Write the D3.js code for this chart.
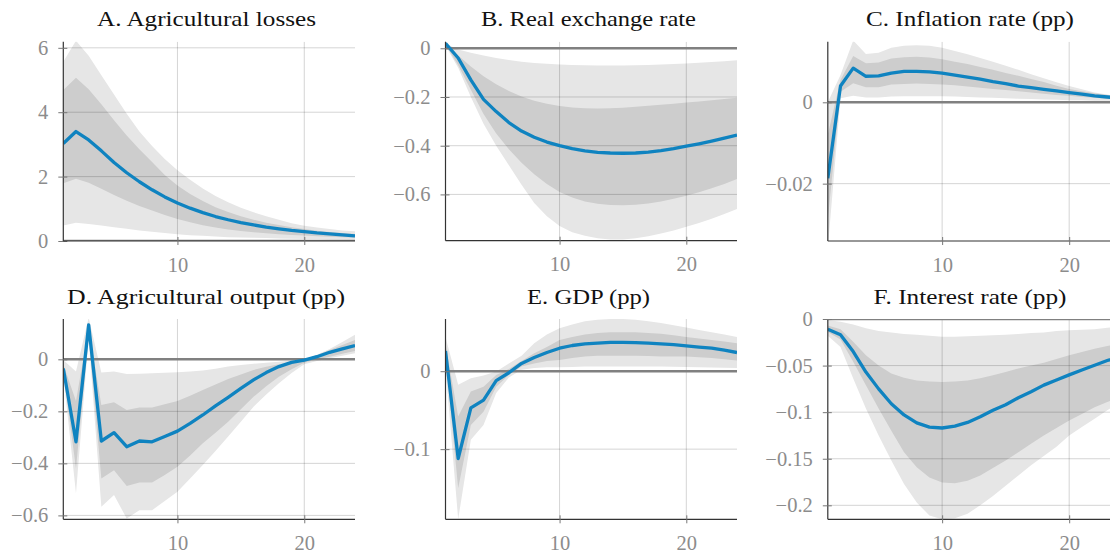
<!DOCTYPE html>
<html><head><meta charset="utf-8">
<script src="https://cdn.jsdelivr.net/npm/d3@7"></script>
<style>
html,body{margin:0;padding:0;background:#fff;}
svg{display:block;}
</style></head>
<body>
<svg id="chart" width="1110" height="555"></svg>
<script>
// ---------- DATA (horizons 1..24) ----------
const horizons = d3.range(1, 25);
const titles = ["A. Agricultural losses", "B. Real exchange rate", "C. Inflation rate (pp)",
                "D. Agricultural output (pp)", "E. GDP (pp)", "F. Interest rate (pp)"];
const xTicks = [10, 20];
const yTicksA = [0, 2, 4, 6];
const yTicksB = [0, -0.2, -0.4, -0.6];
const yTicksC = [0, -0.02];
const yTicksD = [0, -0.2, -0.4, -0.6];
const yTicksE = [0, -0.1];
const yTicksF = [0, -0.05, -0.1, -0.15, -0.2];

// A. Agricultural losses
const medA   = [3.03,3.40,3.14,2.80,2.44,2.12,1.84,1.59,1.37,1.18,1.02,0.88,0.76,0.66,0.57,0.50,0.43,0.38,0.33,0.29,0.25,0.22,0.19,0.16];
const hi90A  = [5.57,6.22,5.75,5.15,4.55,3.95,3.40,2.95,2.55,2.20,1.90,1.63,1.40,1.20,1.03,0.89,0.77,0.66,0.55,0.47,0.42,0.37,0.33,0.30];
const hi68A  = [4.69,5.07,4.71,4.25,3.75,3.28,2.85,2.45,2.05,1.72,1.46,1.24,1.05,0.90,0.77,0.66,0.57,0.50,0.43,0.37,0.32,0.28,0.25,0.22];
const lo68A  = [1.79,1.93,1.81,1.62,1.43,1.25,1.09,0.95,0.81,0.68,0.58,0.49,0.42,0.36,0.31,0.27,0.24,0.21,0.19,0.17,0.15,0.13,0.12,0.11];
const lo90A  = [0.48,0.57,0.53,0.48,0.43,0.38,0.33,0.29,0.25,0.21,0.18,0.16,0.14,0.12,0.11,0.10,0.09,0.08,0.07,0.06,0.06,0.05,0.05,0.04];

// B. Real exchange rate
const medB   = [0.02,-0.04,-0.13,-0.21,-0.26,-0.305,-0.34,-0.365,-0.385,-0.40,-0.412,-0.421,-0.427,-0.430,-0.431,-0.430,-0.426,-0.420,-0.412,-0.402,-0.392,-0.381,-0.369,-0.356];
const hi90B  = [0.02,-0.005,-0.018,-0.03,-0.04,-0.048,-0.055,-0.06,-0.064,-0.067,-0.069,-0.07,-0.071,-0.071,-0.071,-0.07,-0.069,-0.067,-0.065,-0.062,-0.059,-0.056,-0.053,-0.049];
const hi68B  = [0.02,-0.03,-0.075,-0.115,-0.148,-0.175,-0.198,-0.215,-0.228,-0.237,-0.243,-0.246,-0.247,-0.246,-0.244,-0.24,-0.236,-0.232,-0.228,-0.223,-0.218,-0.213,-0.208,-0.203];
const lo68B  = [0.015,-0.07,-0.17,-0.27,-0.35,-0.415,-0.47,-0.517,-0.557,-0.59,-0.613,-0.629,-0.638,-0.643,-0.644,-0.642,-0.637,-0.629,-0.618,-0.605,-0.591,-0.575,-0.557,-0.537];
const lo90B  = [0.01,-0.08,-0.2,-0.31,-0.40,-0.48,-0.56,-0.635,-0.69,-0.73,-0.755,-0.77,-0.78,-0.785,-0.785,-0.78,-0.772,-0.76,-0.748,-0.733,-0.717,-0.70,-0.68,-0.66];

// C. Inflation rate (pp)
const medC   = [-0.0187,0.0040,0.0084,0.0064,0.0065,0.0072,0.0076,0.0076,0.0075,0.0072,0.0067,0.0062,0.0057,0.0051,0.0046,0.0040,0.0036,0.0032,0.0028,0.0024,0.0020,0.0016,0.0013,0.0010];
const hi90C  = [0.0000,0.0067,0.0152,0.0119,0.0122,0.0134,0.0139,0.0140,0.0139,0.0134,0.0126,0.0118,0.0109,0.0100,0.0090,0.0080,0.0069,0.0059,0.0049,0.0040,0.0032,0.0024,0.0019,0.0015];
const hi68C  = [-0.0080,0.0055,0.0114,0.0096,0.0098,0.0108,0.0111,0.0112,0.0110,0.0106,0.0100,0.0094,0.0087,0.0080,0.0072,0.0065,0.0057,0.0050,0.0041,0.0033,0.0027,0.0022,0.0018,0.0014];
const lo68C  = [-0.0290,0.0026,0.0047,0.0037,0.0037,0.0044,0.0045,0.0046,0.0045,0.0044,0.0042,0.0039,0.0036,0.0033,0.0030,0.0027,0.0024,0.0021,0.0018,0.0016,0.0013,0.0011,0.0009,0.0007];
const lo90C  = [-0.0360,0.0010,0.0016,0.0012,0.0012,0.0014,0.0015,0.0015,0.0015,0.0015,0.0014,0.0013,0.0012,0.0011,0.0010,0.0009,0.0008,0.0007,0.0006,0.0005,0.0005,0.0004,0.0004,0.0003];

// D. Agricultural output (pp)
const medD   = [-0.035,-0.317,0.132,-0.314,-0.282,-0.336,-0.314,-0.317,-0.297,-0.276,-0.246,-0.214,-0.179,-0.146,-0.112,-0.079,-0.051,-0.028,-0.012,-0.003,0.010,0.027,0.040,0.053];
const hi90D  = [-0.003,-0.047,0.160,-0.051,-0.047,-0.056,-0.055,-0.054,-0.052,-0.050,-0.047,-0.043,-0.036,-0.028,-0.022,-0.017,-0.013,-0.009,-0.005,-0.002,0.018,0.040,0.067,0.094];
const hi68D  = [-0.020,-0.160,0.120,-0.176,-0.165,-0.195,-0.185,-0.185,-0.173,-0.160,-0.140,-0.118,-0.097,-0.076,-0.058,-0.041,-0.029,-0.019,-0.011,-0.004,0.016,0.036,0.055,0.074];
const lo68D  = [-0.050,-0.420,0.090,-0.458,-0.426,-0.487,-0.474,-0.474,-0.445,-0.413,-0.370,-0.323,-0.282,-0.240,-0.192,-0.144,-0.104,-0.067,-0.038,-0.013,-0.001,0.010,0.021,0.032];
const lo90D  = [-0.060,-0.515,0.080,-0.567,-0.522,-0.612,-0.580,-0.580,-0.545,-0.509,-0.458,-0.406,-0.352,-0.297,-0.240,-0.182,-0.135,-0.092,-0.053,-0.019,-0.006,0.004,0.014,0.023];

// E. GDP (pp)
const medE   = [0.026,-0.112,-0.047,-0.037,-0.012,-0.002,0.010,0.0175,0.024,0.0295,0.033,0.035,0.036,0.037,0.037,0.0367,0.036,0.035,0.034,0.0325,0.031,0.0295,0.027,0.024];
const hi90E  = [0.044,-0.0175,-0.009,-0.0056,-0.0004,0.010,0.020,0.036,0.047,0.055,0.060,0.064,0.066,0.067,0.067,0.066,0.064,0.062,0.059,0.056,0.053,0.050,0.047,0.044];
const hi68E  = [0.035,-0.058,-0.026,-0.020,-0.005,0.003,0.013,0.023,0.031,0.040,0.044,0.047,0.049,0.050,0.050,0.050,0.049,0.048,0.046,0.044,0.042,0.040,0.038,0.036];
const lo68E  = [0.018,-0.150,-0.069,-0.052,-0.020,-0.005,0.006,0.010,0.013,0.0145,0.017,0.019,0.020,0.020,0.020,0.020,0.0195,0.019,0.019,0.019,0.018,0.017,0.0155,0.0137];
const lo90E  = [0.005,-0.190,-0.088,-0.069,-0.028,-0.008,0.002,0.004,0.005,0.005,0.0055,0.006,0.006,0.006,0.006,0.006,0.006,0.006,0.0058,0.0055,0.005,0.0048,0.0044,0.004];

// F. Interest rate (pp)
const medF   = [-0.011,-0.017,-0.035,-0.057,-0.075,-0.091,-0.103,-0.1115,-0.116,-0.117,-0.115,-0.111,-0.105,-0.098,-0.092,-0.0845,-0.078,-0.071,-0.0655,-0.060,-0.0547,-0.0496,-0.0446,-0.040];
const hi90F  = [-0.001,-0.003,-0.006,-0.010,-0.013,-0.0144,-0.016,-0.017,-0.018,-0.019,-0.019,-0.0185,-0.018,-0.0175,-0.017,-0.016,-0.015,-0.0145,-0.013,-0.012,-0.0115,-0.011,-0.0095,-0.008];
const hi68F  = [-0.007,-0.011,-0.0245,-0.039,-0.050,-0.0586,-0.063,-0.066,-0.067,-0.0676,-0.067,-0.066,-0.0635,-0.0604,-0.057,-0.053,-0.050,-0.047,-0.043,-0.039,-0.0355,-0.032,-0.029,-0.026];
const lo68F  = [-0.014,-0.022,-0.046,-0.071,-0.096,-0.120,-0.143,-0.159,-0.170,-0.1755,-0.1763,-0.1737,-0.168,-0.160,-0.152,-0.143,-0.134,-0.125,-0.117,-0.109,-0.102,-0.0946,-0.089,-0.084];
const lo90F  = [-0.018,-0.030,-0.064,-0.096,-0.125,-0.152,-0.177,-0.197,-0.211,-0.215,-0.214,-0.209,-0.200,-0.190,-0.179,-0.168,-0.157,-0.147,-0.137,-0.125,-0.116,-0.107,-0.098,-0.089];

// ---------- LAYOUT ----------
const panels = [
  {title: titles[0], med: medA, bands: [lo90A, hi90A, lo68A, hi68A], yTicks: yTicksA,
   x0: 63.3, x1: 355, top: 41.7, bottom: 241, dom: [0, 6.19], titleY: 26, titleX: 206.5},
  {title: titles[1], med: medB, bands: [lo90B, hi90B, lo68B, hi68B], yTicks: yTicksB,
   x0: 445.5, x1: 737, top: 41.7, bottom: 240.7, dom: [-0.790, 0.027], titleY: 26, titleX: 588.5},
  {title: titles[2], med: medC, bands: [lo90C, hi90C, lo68C, hi68C], yTicks: yTicksC,
   x0: 827.8, x1: 1120, top: 41.7, bottom: 241, dom: [-0.0341, 0.0149], titleY: 26, titleX: 970},
  {title: titles[3], med: medD, bands: [lo90D, hi90D, lo68D, hi68D], yTicks: yTicksD,
   x0: 63.3, x1: 355, top: 319, bottom: 519.3, dom: [-0.615, 0.155], titleY: 304, titleX: 206},
  {title: titles[4], med: medE, bands: [lo90E, hi90E, lo68E, hi68E], yTicks: yTicksE,
   x0: 445.5, x1: 737, top: 319, bottom: 519.3, dom: [-0.190, 0.067], titleY: 304, titleX: 588.5},
  {title: titles[5], med: medF, bands: [lo90F, hi90F, lo68F, hi68F], yTicks: yTicksF,
   x0: 827.8, x1: 1120, top: 319, bottom: 519.3, dom: [-0.215, 0], titleY: 304, titleX: 970}
];
const titleWidths = [219, 215, 208, 278, 123, 193];

const fmtNum = d => {
  if (d === 0) return "0";
  const s = String(Math.abs(d));
  return (d < 0 ? "\u2212" : "") + s;
};

const svg = d3.select("#chart");
const serif = "'Liberation Serif', 'Times New Roman', serif";
const tickSize = 20.5;

panels.forEach((p, i) => {
  const x = d3.scaleLinear().domain([1, 24]).range([p.x0, p.x1]);
  const y = d3.scaleLinear().domain(p.dom).range([p.bottom, p.top]);
  const g = svg.append("g");

  const clipId = "clip" + i;
  svg.append("clipPath").attr("id", clipId).append("rect")
    .attr("x", p.x0).attr("y", p.top).attr("width", p.x1 - p.x0).attr("height", p.bottom - p.top);

  const plot = g.append("g").attr("clip-path", `url(#${clipId})`);

  const area = (lo, hi) => d3.area()
    .x((d, k) => x(horizons[k]))
    .y0((d, k) => y(lo[k]))
    .y1((d, k) => y(hi[k]))(horizons);

  plot.append("path").attr("d", area(p.bands[0], p.bands[1])).attr("fill", "#e6e6e6");
  plot.append("path").attr("d", area(p.bands[2], p.bands[3])).attr("fill", "#cdcdcd");

  // gridlines
  plot.selectAll(".gy").data(p.yTicks.filter(t => t !== 0)).enter().append("line")
    .attr("x1", p.x0).attr("x2", p.x1).attr("y1", d => y(d)).attr("y2", d => y(d))
    .attr("stroke", "#000").attr("stroke-opacity", 0.17).attr("stroke-width", 1);
  plot.selectAll(".gx").data(xTicks).enter().append("line")
    .attr("x1", d => x(d)).attr("x2", d => x(d)).attr("y1", p.top).attr("y2", p.bottom)
    .attr("stroke", "#000").attr("stroke-opacity", 0.17).attr("stroke-width", 1);

  // zero line
  plot.append("line").attr("x1", p.x0).attr("x2", p.x1).attr("y1", y(0)).attr("y2", y(0))
    .attr("stroke", "#808080").attr("stroke-width", 2.6);

  // median line
  const line = d3.line().x((d, k) => x(horizons[k])).y(d => y(d));
  plot.append("path").attr("d", line(p.med)).attr("fill", "none")
    .attr("stroke", "#0f83c0").attr("stroke-width", 3.3).attr("stroke-linejoin", "round");

  // axes
  const yAxis = d3.axisLeft(y).tickValues(p.yTicks).tickFormat(fmtNum).tickSize(5).tickPadding(10);
  const ya = g.append("g").attr("transform", `translate(${p.x0},0)`).call(yAxis)
    .attr("font-family", serif).attr("font-size", tickSize);
  ya.select(".domain").attr("stroke", "#333").attr("stroke-width", 1.2)
    .attr("d", `M0,${p.top}V${p.bottom}`);
  ya.selectAll(".tick line").attr("stroke", "#777").attr("x1", 4);
  ya.selectAll(".tick text").attr("fill", "#8c8c8c")
    .attr("font-family", serif).attr("font-size", tickSize);

  const xAxis = d3.axisBottom(x).tickValues(xTicks).tickFormat(d => String(d)).tickSize(4).tickPadding(12);
  const xa = g.append("g").attr("transform", `translate(0,${p.bottom})`).call(xAxis)
    .attr("font-family", serif).attr("font-size", tickSize);
  xa.select(".domain").attr("stroke", "#333").attr("stroke-width", 1.2)
    .attr("d", `M${p.x0},0H${Math.min(p.x1, 1110)}`);
  xa.selectAll(".tick line").attr("stroke", "#777").attr("y1", -4);
  xa.selectAll(".tick text").attr("fill", "#8c8c8c")
    .attr("font-family", serif).attr("font-size", tickSize);

  // title
  g.append("text").attr("x", p.titleX).attr("y", p.titleY).attr("text-anchor", "middle")
    .attr("font-family", serif).attr("font-size", 21).attr("fill", "#111")
    .attr("textLength", titleWidths[i]).attr("lengthAdjust", "spacingAndGlyphs")
    .text(p.title);
});
</script>
</body></html>
